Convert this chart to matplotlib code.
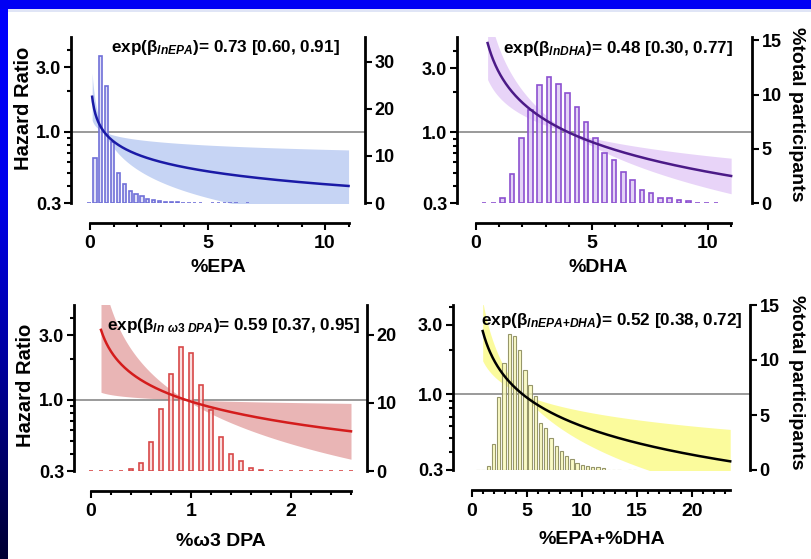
import numpy as np
import matplotlib
matplotlib.use('Agg')
import matplotlib.pyplot as plt
from matplotlib.patches import Rectangle
from matplotlib.colors import to_rgba
from matplotlib.ticker import FixedLocator, NullFormatter, FormatStrFormatter

plt.rcParams['font.family'] = 'Liberation Sans'
plt.rcParams['font.weight'] = 'bold'
plt.rcParams['mathtext.fontset'] = 'custom'
plt.rcParams['mathtext.rm'] = 'Liberation Sans:bold'
plt.rcParams['mathtext.it'] = 'Liberation Sans:italic:bold'
plt.rcParams['mathtext.bf'] = 'Liberation Sans:bold'

# histogram bins (bin centres) and % of participants
epa_bins = [-0.04, 0.21, 0.46, 0.71, 0.96, 1.21, 1.46, 1.71, 1.96, 2.21, 2.46, 2.71, 2.96,
            3.21, 3.46, 3.71, 3.96, 4.21, 4.46, 4.71, 5.21, 5.46, 5.71, 5.96, 6.21, 6.71]
epa_pct = [0, 9.5, 31.3, 24.9, 13.0, 6.4, 4.0, 2.6, 1.85, 1.5, 0.8, 0.64, 0.43,
           0.28, 0.2, 0.15, 0, 0, 0, 0, 0, 0, 0, 0, 0, 0]

dha_bins = [0.35, 0.75, 1.15, 1.55, 1.95, 2.35, 2.75, 3.15, 3.55, 3.95, 4.35, 4.75, 5.15,
            5.55, 5.95, 6.35, 6.75, 7.15, 7.55, 7.95, 8.35, 8.75, 9.15, 9.55, 9.95, 10.35]
dha_pct = [0, 0, 0.46, 2.7, 6.0, 8.6, 10.9, 11.6, 11.0, 10.1, 8.85, 7.5, 6.0,
           4.6, 4.0, 2.9, 2.1, 1.2, 0.9, 0.5, 0.46, 0.3, 0.15, 0, 0, 0]

dpa_bins = [0.0, 0.1, 0.2, 0.3, 0.4, 0.5, 0.6, 0.7, 0.8, 0.9, 1.0, 1.1, 1.2, 1.3,
            1.4, 1.5, 1.6, 1.7, 1.8, 1.9, 2.0, 2.1, 2.2, 2.3, 2.4, 2.5, 2.6]
dpa_pct = [0, 0, 0, 0, 0.3, 1.2, 4.2, 9.1, 14.3, 18.3, 17.3, 12.6, 8.9, 5.0,
           2.5, 1.4, 0.5, 0.2, 0, 0, 0, 0, 0, 0, 0, 0, 0]

sum_bins = [0.56, 1.035, 1.51, 1.985, 2.46, 2.935, 3.41, 3.885, 4.36, 4.835, 5.31,
            5.785, 6.26, 6.735, 7.21, 7.685, 8.16, 8.635, 9.11, 9.585, 10.06, 10.535,
            11.01, 11.485, 11.96, 12.435, 12.91, 13.385, 14.335, 14.81]
sum_pct = [0, 0, 0.39, 2.36, 6.6, 9.7, 12.4, 12.2, 10.9, 9.1, 7.7, 6.7, 4.3, 3.8,
           2.9, 2.2, 1.7, 1.27, 0.97, 0.6, 0.45, 0.36, 0.3, 0.24, 0.15, 0, 0, 0, 0, 0]

# hazard ratio per unit ln(exposure): estimate and 95% CI
names = ['lnEPA', 'lnDHA', r'ln\ \omega 3\ DPA', 'lnEPA{+}DHA']
hr_est = [0.73, 0.48, 0.59, 0.52]
hr_lo = [0.60, 0.30, 0.37, 0.38]
hr_hi = [0.91, 0.77, 0.95, 0.72]
hr_ref = [0.6, 4.0, 0.95, 4.6]          # exposure level where HR = 1
band_width = [0.21, 0.30, 0.47, 0.31]   # half-width of the shaded band, log-HR per ln unit
x_range = [(0.09, 11), (0.5, 11), (0.1, 2.6), (1.0, 23.5)]
xlabels = ['%EPA', '%DHA', '%ω3 DPA', '%EPA+%DHA']

band_colors = ['#c6d4f4', '#e8d4f8', '#e9b5b5', '#fbfb9c']
line_colors = ['#1a1aa6', '#4b1a87', '#d41c1c', '#000000']
bar_edges = ['#7070d8', '#8c50d0', '#d84848', '#96966a']
bar_fills = ['#dadaf7', '#dcc8f4', '#f8d6d6', '#fafab8']
bar_lw = [1.2, 1.2, 1.2, 0.8]

W, H = 811, 559
fig = plt.figure(figsize=(W / 100, H / 100), dpi=100)
fig.patch.set_facecolor('white')

# blue frame: gradient strip on the left, solid bar on top
grad = np.zeros((256, 1, 3))
grad[:, 0, 2] = np.interp(np.linspace(0, 1, 256), [0, 0.35, 0.65, 0.85, 1.0],
                          [1.0, 0.92, 0.62, 0.38, 0.2])
side = fig.add_axes([0, 0, 8 / W, 1])
side.imshow(grad, aspect='auto', extent=[0, 1, 0, 1])
side.axis('off')
fig.add_artist(Rectangle((0, 1 - 9 / H), 1, 9 / H, transform=fig.transFigure,
                         color='#0000f4', lw=0))
fig.add_artist(Rectangle((8 / W, 1 - 12 / H), 1, 3 / H, transform=fig.transFigure,
                         color='#e0e5f6', lw=0))


def draw_panel(i, box, xlim, ytop, rtop, rticks, xbounds, xmajor, xminor,
               bins, pct, width):
    l, r, t, b = box
    ax = fig.add_axes([l / W, 1 - b / H, (r - l) / W, (b - t) / H])
    ax.set_yscale('log')
    ax.set_xlim(xlim)
    ax.set_ylim(0.3, ytop)

    xs = np.linspace(x_range[i][0], x_range[i][1], 400)
    u = np.log(xs / hr_ref[i])
    hr = np.exp(np.log(hr_est[i]) * u)
    spread = np.exp(band_width[i] * np.abs(u))
    ax.fill_between(xs, hr / spread, hr * spread, color=band_colors[i], lw=0)
    ax.axhline(1.0, color='#7f7f7f', lw=1.1)

    ax2 = ax.twinx()
    ax2.set_ylim(0, rtop)
    ax2.bar(bins, pct, width=width, facecolor=to_rgba(bar_fills[i], 0.8),
            edgecolor=bar_edges[i], linewidth=bar_lw[i])
    # fitted curve on top of the bars, in hazard-ratio coordinates
    ax2.plot(xs, hr, transform=ax.transData, color=line_colors[i], lw=1.8)
    ax2.set_ylim(0, rtop)

    for s in ['top', 'right']:
        ax.spines[s].set_visible(False)
    for s in ['top', 'left', 'bottom']:
        ax2.spines[s].set_visible(False)
    ax.spines['left'].set_linewidth(2)
    ax2.spines['right'].set_linewidth(2)
    ax.spines['bottom'].set_linewidth(2)
    ax.spines['bottom'].set_position(('outward', 14.4))
    ax.spines['bottom'].set_bounds(*xbounds)

    ax.yaxis.set_major_locator(FixedLocator([0.3, 1.0, 3.0]))
    ax.yaxis.set_major_formatter(FormatStrFormatter('%.1f'))
    ax.yaxis.set_minor_locator(FixedLocator([0.4, 0.5, 0.6, 0.7, 0.8, 0.9, 2, 4]))
    ax.yaxis.set_minor_formatter(NullFormatter())
    ax.xaxis.set_major_locator(FixedLocator(xmajor))
    ax.xaxis.set_major_formatter(FormatStrFormatter('%g'))
    ax.xaxis.set_minor_locator(FixedLocator(xminor))
    ax2.yaxis.set_major_locator(FixedLocator(rticks))
    ax2.yaxis.set_major_formatter(FormatStrFormatter('%g'))

    ax.tick_params(axis='y', which='major', length=5, width=1.5, labelsize=13, pad=2)
    ax.tick_params(axis='y', which='minor', length=3, width=1.5)
    ax.tick_params(axis='x', which='major', length=5, width=1.5, labelsize=14, pad=4)
    ax.tick_params(axis='x', which='minor', length=3, width=1.5)
    ax2.tick_params(axis='y', which='major', length=5, width=1.5, labelsize=13, pad=2)
    return ax


draw_panel(0, (71, 365, 37, 203), (-0.81, 11.7), 5.0, 35.3, [0, 10, 20, 30], (0, 11),
           [0, 5, 10], np.arange(0, 12), epa_bins, epa_pct, 0.14)
draw_panel(1, (457, 752, 37, 203), (-0.82, 11.9), 5.1, 15.3, [0, 5, 10, 15], (0, 11),
           [0, 5, 10], np.arange(0, 12), dha_bins, dha_pct, 0.2)
draw_panel(2, (74, 367, 305, 471), (-0.17, 2.76), 5.0, 24.4, [0, 10, 20], (0, 2.6),
           [0, 1, 2], np.arange(0, 2.7, 0.2), dpa_bins, dpa_pct, 0.048)
draw_panel(3, (453, 750, 305, 470), (-1.7, 25.3), 4.1, 15.0, [0, 5, 10, 15], (0, 23.5),
           [0, 5, 10, 15, 20], np.arange(0, 24), sum_bins, sum_pct, 0.3)

# effect-size notes
note_pos = [(340, 52), (733, 53), (360, 330), (742, 325)]
for i, (x, y) in enumerate(note_pos):
    txt = r'exp($\mathrm{\beta}_{\mathit{%s}}$)= %.2f [%.2f, %.2f]' % (
        names[i], hr_est[i], hr_lo[i], hr_hi[i])
    fig.text(x / W, 1 - y / H, txt, ha='right', va='baseline', fontsize=12.3)

# axis titles
xl_pos = [(218, 268), (598, 268), (221, 541), (602, 540)]
for i, (x, y) in enumerate(xl_pos):
    fig.text(x / W, 1 - y / H, xlabels[i], ha='center', va='center', fontsize=14)
for x, y in [(24, 108), (26, 385)]:
    fig.text(x / W, 1 - y / H, 'Hazard Ratio', rotation=90, ha='center', va='center',
             fontsize=14.5)
for x, y in [(797, 114), (797, 382)]:
    fig.text(x / W, 1 - y / H, '%total participants', rotation=270, ha='center',
             va='center', fontsize=14)

fig.savefig('out.png', dpi=100)
